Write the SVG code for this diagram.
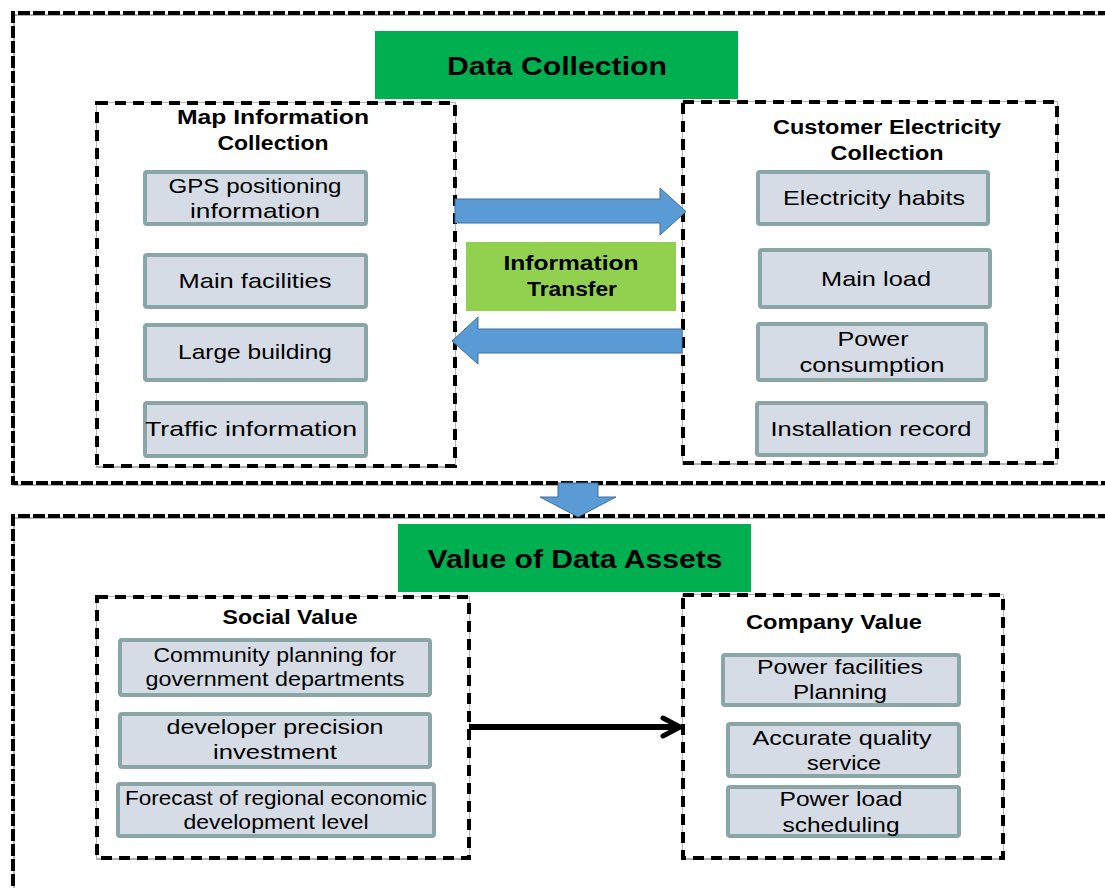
<svg xmlns="http://www.w3.org/2000/svg" width="1105" height="888" viewBox="0 0 1105 888">
<defs>
<style>
.outer{fill:none;stroke:#000;stroke-width:4;stroke-dasharray:12 3}
.outerS{fill:none;stroke:#999;stroke-width:1.5}
.grp{fill:#fff;stroke:#000;stroke-width:4;stroke-dasharray:11 7}
.grpS{fill:none;stroke:#999;stroke-width:1.5}
.item{fill:#d6dce5;stroke:#8aa5a5;stroke-width:4}
.hdr{fill:#00b050}
.t{font-family:"Liberation Sans",Arial,sans-serif;font-size:21px;fill:#000;text-anchor:middle}
.b{font-family:"Liberation Sans",Arial,sans-serif;font-weight:bold;fill:#000;text-anchor:middle}
.blue{fill:#5b9bd5;stroke:#41719c;stroke-width:1}
</style>
<marker id="open" markerWidth="24" markerHeight="24" refX="20" refY="12" orient="auto" markerUnits="userSpaceOnUse">
<path d="M3,3 L20,12 L3,21" fill="none" stroke="#000" stroke-width="5" stroke-linecap="round" stroke-linejoin="round"/>
</marker>
</defs>
<rect width="1105" height="888" fill="#fff"/>

<g id="outer-top">
<path class="outerS" d="M1110,15 H14 V485 H1110"/>
<path class="outer" d="M1110,13 H13 V483 H1110"/>
</g>
<g id="outer-bottom">
<path class="outerS" d="M1110,518 H14 V890"/>
<path class="outer" d="M1110,516 H13 V890"/>
</g>

<g id="data-collection">
<rect class="hdr" x="375" y="31" width="363" height="68"/>
<text class="b" x="557" y="75" font-size="26" textLength="220" lengthAdjust="spacingAndGlyphs">Data Collection</text>
</g>

<g id="map-info">
<rect class="grpS" x="97" y="103" width="358" height="364"/>
<rect class="grp" x="97" y="103" width="358" height="363"/>
<text class="b" x="273" y="124" font-size="20" textLength="192" lengthAdjust="spacingAndGlyphs">Map Information</text>
<text class="b" x="273" y="150" font-size="20" textLength="111" lengthAdjust="spacingAndGlyphs">Collection</text>
</g>
<g id="gps"><rect class="item" x="145" y="172" width="221" height="52" rx="2"/>
<text class="t" x="255" y="193" textLength="173" lengthAdjust="spacingAndGlyphs">GPS positioning</text><text class="t" x="255" y="218" textLength="130" lengthAdjust="spacingAndGlyphs">information</text></g>
<g id="main-facilities"><rect class="item" x="145" y="255" width="221" height="52" rx="2"/>
<text class="t" x="255" y="288" textLength="153" lengthAdjust="spacingAndGlyphs">Main facilities</text></g>
<g id="large-building"><rect class="item" x="145" y="325" width="221" height="55" rx="2"/>
<text class="t" x="255" y="359" textLength="154" lengthAdjust="spacingAndGlyphs">Large building</text></g>
<g id="traffic"><rect class="item" x="145" y="403" width="221" height="53" rx="2"/>
<text class="t" x="251" y="436" textLength="212" lengthAdjust="spacingAndGlyphs">Traffic information</text></g>

<g id="customer">
<rect class="grpS" x="683" y="102" width="374" height="362"/>
<rect class="grp" x="683" y="102" width="374" height="361"/>
<text class="b" x="887" y="134" font-size="20" textLength="228" lengthAdjust="spacingAndGlyphs">Customer Electricity</text>
<text class="b" x="887" y="160" font-size="20" textLength="113" lengthAdjust="spacingAndGlyphs">Collection</text>
</g>
<g id="habits"><rect class="item" x="758" y="172" width="230" height="52" rx="2"/>
<text class="t" x="874" y="205" textLength="182" lengthAdjust="spacingAndGlyphs">Electricity habits</text></g>
<g id="main-load"><rect class="item" x="760" y="250" width="230" height="57" rx="2"/>
<text class="t" x="876" y="286" textLength="110" lengthAdjust="spacingAndGlyphs">Main load</text></g>
<g id="power-consumption"><rect class="item" x="758" y="324" width="228" height="56" rx="2"/>
<text class="t" x="873" y="346" textLength="71" lengthAdjust="spacingAndGlyphs">Power</text><text class="t" x="872" y="372" textLength="145" lengthAdjust="spacingAndGlyphs">consumption</text></g>
<g id="installation"><rect class="item" x="757" y="403" width="229" height="52" rx="2"/>
<text class="t" x="871" y="436" textLength="201" lengthAdjust="spacingAndGlyphs">Installation record</text></g>

<g id="info-transfer">
<rect x="466" y="242" width="210" height="69" fill="#92d050"/>
<text class="b" x="571" y="270" font-size="20" textLength="135" lengthAdjust="spacingAndGlyphs">Information</text>
<text class="b" x="572" y="296" font-size="20" textLength="90" lengthAdjust="spacingAndGlyphs">Transfer</text>
</g>

<g id="value-assets">
<rect class="hdr" x="398" y="524" width="353" height="68"/>
<text class="b" x="575" y="568" font-size="26" textLength="295" lengthAdjust="spacingAndGlyphs">Value of Data Assets</text>
</g>

<g id="social">
<rect class="grpS" x="97" y="597" width="372" height="262"/>
<rect class="grp" x="97" y="597" width="372" height="261"/>
<text class="b" x="290" y="624" font-size="20" textLength="135" lengthAdjust="spacingAndGlyphs">Social Value</text>
</g>
<g id="community"><rect class="item" x="120" y="640" width="310" height="55" rx="2"/>
<text class="t" x="275" y="662" font-size="19" textLength="243" lengthAdjust="spacingAndGlyphs">Community planning for</text><text class="t" x="275" y="686" font-size="19" textLength="259" lengthAdjust="spacingAndGlyphs">government departments</text></g>
<g id="developer"><rect class="item" x="120" y="714" width="310" height="53" rx="2"/>
<text class="t" x="275" y="734" textLength="217" lengthAdjust="spacingAndGlyphs">developer precision</text><text class="t" x="275" y="759" textLength="124" lengthAdjust="spacingAndGlyphs">investment</text></g>
<g id="forecast"><rect class="item" x="118" y="784" width="316" height="52" rx="2"/>
<text class="t" x="276" y="805" font-size="19" textLength="302" lengthAdjust="spacingAndGlyphs">Forecast of regional economic</text>
<text class="t" x="276" y="829" font-size="19" textLength="185" lengthAdjust="spacingAndGlyphs">development level</text></g>

<g id="company">
<rect class="grpS" x="683" y="595" width="320" height="264"/>
<rect class="grp" x="683" y="595" width="320" height="263"/>
<text class="b" x="834" y="629" font-size="20" textLength="176" lengthAdjust="spacingAndGlyphs">Company Value</text>
</g>
<g id="power-facilities"><rect class="item" x="723" y="655" width="236" height="50" rx="2"/>
<text class="t" x="840" y="674" textLength="166" lengthAdjust="spacingAndGlyphs">Power facilities</text><text class="t" x="840" y="699" textLength="94" lengthAdjust="spacingAndGlyphs">Planning</text></g>
<g id="accurate"><rect class="item" x="728" y="724" width="231" height="52" rx="2"/>
<text class="t" x="842" y="745" textLength="179" lengthAdjust="spacingAndGlyphs">Accurate quality</text><text class="t" x="844" y="770" textLength="74" lengthAdjust="spacingAndGlyphs">service</text></g>
<g id="load-scheduling"><rect class="item" x="728" y="787" width="231" height="49" rx="2"/>
<text class="t" x="841" y="806" textLength="123" lengthAdjust="spacingAndGlyphs">Power load</text><text class="t" x="841" y="832" textLength="117" lengthAdjust="spacingAndGlyphs">scheduling</text></g>

<g id="connectors">
<path class="blue" d="M455,199 H660 V188 L686,211.5 L660,235 V223 H455 Z"/>
<path class="blue" d="M682,329 H478 V317 L452,341 L478,364 V353 H682 Z"/>
<path class="blue" d="M558,483 H598 V497 H616 L578,517 L540,497 H558 Z"/>
<line x1="469" y1="727" x2="680" y2="727" stroke="#000" stroke-width="6" marker-end="url(#open)"/>
</g>
</svg>
